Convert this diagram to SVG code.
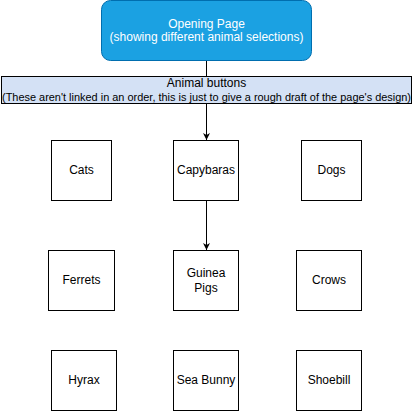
<svg xmlns="http://www.w3.org/2000/svg" width="413" height="411" viewBox="0 0 413 411">
<style>
text{font-family:"Liberation Sans",Arial,sans-serif;font-size:12px;text-anchor:middle;fill:#000}
.box{fill:#fff;stroke:#000;stroke-width:1}
.edge{stroke:#000;stroke-width:1;fill:none}
</style>
<defs>
<marker id="arr" viewBox="0 0 10 10" refX="10" refY="5" markerWidth="7" markerHeight="7" markerUnits="userSpaceOnUse" orient="auto">
<path d="M0,0 L10,5 L0,10 L3,5 Z" fill="#000"/>
</marker>
</defs>
<rect width="413" height="411" fill="#fff"/>
<g id="connectors">
<line class="edge" x1="206.5" y1="61" x2="206.5" y2="76"/>
<line class="edge" x1="206.5" y1="104" x2="206.5" y2="140" marker-end="url(#arr)"/>
<line class="edge" x1="206.5" y1="200" x2="206.5" y2="250" marker-end="url(#arr)"/>
</g>
<g id="opening">
<rect x="101.5" y="0.5" width="210" height="60" rx="9" fill="#1ba1e2" stroke="#006eaf"/>
<text x="206.5" y="27.5" style="fill:#fff">Opening Page</text>
<text x="206.5" y="41" style="fill:#fff">(showing different animal selections)</text>
</g>
<g id="animal-buttons">
<rect x="1.5" y="76.5" width="410" height="27" fill="#d4e1f5" stroke="#000"/>
<text x="206.5" y="87">Animal buttons</text>
<text x="206.5" y="101" style="font-size:11px" textLength="409" lengthAdjust="spacingAndGlyphs">(These aren't linked in an order, this is just to give a rough draft of the page's design)</text>
</g>
<g id="cats"><rect class="box" x="51.5" y="140.5" width="60" height="60"/><text x="81.5" y="174">Cats</text></g>
<g id="capybaras"><rect class="box" x="173.5" y="140.5" width="65" height="60"/><text x="206" y="174">Capybaras</text></g>
<g id="dogs"><rect class="box" x="301.5" y="140.5" width="60" height="60"/><text x="331.5" y="174">Dogs</text></g>
<g id="ferrets"><rect class="box" x="48.5" y="250.5" width="66" height="60"/><text x="81.5" y="284">Ferrets</text></g>
<g id="guinea-pigs"><rect class="box" x="173.5" y="250.5" width="65" height="60"/><text x="206" y="277">Guinea</text><text x="206" y="291.5">Pigs</text></g>
<g id="crows"><rect class="box" x="296.5" y="250.5" width="65" height="60"/><text x="329" y="284">Crows</text></g>
<g id="hyrax"><rect class="box" x="51.5" y="350.5" width="65" height="60"/><text x="84" y="384">Hyrax</text></g>
<g id="sea-bunny"><rect class="box" x="173.5" y="350.5" width="65" height="60"/><text x="206" y="384">Sea Bunny</text></g>
<g id="shoebill"><rect class="box" x="296.5" y="350.5" width="65" height="60"/><text x="329" y="384">Shoebill</text></g>
</svg>
